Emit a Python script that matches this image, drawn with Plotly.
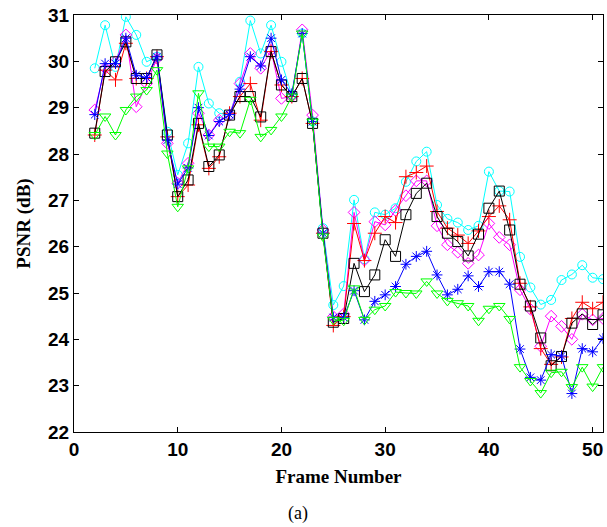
import plotly.graph_objects as go

frames = list(range(2, 52))

psnr_cyan = [29.85, 30.78, 29.88, 30.96, 30.57, 29.99, 30.1, 28.48, 27.55, 28.23,
             29.88, 29.09, 28.88, 28.84, 29.56, 30.88, 30.17, 30.78, 29.99, 29.27,
             30.6, 28.7, 26.4, 24.74, 25.15, 27.01, 25.73, 26.74, 26.69, 26.83,
             27.4, 27.84, 28.05, 26.9, 26.6, 26.52, 26.36, 26.45, 27.62, 27.2,
             27.19, 25.78, 25.12, 24.75, 24.85, 25.28, 25.4, 25.6, 25.33, 25.3]

psnr_red = [28.41, 29.81, 29.6, 30.39, 29.63, 29.63, 30.1, 28.37, 27.08, 27.33,
            28.63, 27.69, 27.94, 28.88, 29.24, 29.52, 28.73, 30.21, 29.49, 29.24,
            29.63, 28.66, 26.29, 24.3, 24.49, 26.5, 25.7, 26.29, 26.65, 26.52,
            27.51, 27.6, 27.74, 26.76, 26.4, 26.25, 26.07, 26.34, 26.65, 26.88,
            26.58, 25.21, 24.7, 23.8, 23.46, 23.62, 24.45, 24.8, 24.66, 24.8]

psnr_black = [28.45, 29.78, 29.99, 30.42, 29.63, 29.63, 30.14, 28.41, 27.08, 27.44,
              28.66, 27.73, 27.98, 28.84, 29.24, 29.24, 28.8, 30.21, 29.49, 29.24,
              29.63, 28.66, 26.29, 24.37, 24.45, 25.64, 25.03, 25.39, 26.15, 25.79,
              26.69, 27.15, 27.37, 26.65, 26.29, 26.11, 25.8, 26.27, 26.83, 27.2,
              26.36, 25.19, 24.72, 24.03, 23.43, 23.63, 24.35, 24.55, 24.32, 24.53]

psnr_magenta = [28.95, 29.85, 29.99, 30.57, 29.02, 29.52, 30.06, 28.23, 27.37, 27.8,
                28.88, 28.41, 28.73, 28.84, 29.52, 30.17, 29.85, 30.24, 29.2, 29.24,
                30.68, 28.84, 26.36, 24.49, 24.55, 26.74, 25.71, 26.54, 26.47, 26.78,
                27.1, 27.42, 27.42, 26.45, 26.04, 25.88, 25.64, 25.82, 26.5, 26.2,
                26.04, 25.07, 24.65, 23.85, 24.5, 24.28, 24.0, 24.54, 24.42, 24.45]

psnr_blue = [28.85, 29.95, 29.95, 30.5, 29.7, 29.65, 30.1, 28.3, 27.35, 27.7,
             29.0, 28.4, 28.7, 28.85, 29.4, 30.1, 29.9, 30.5, 29.6, 29.3,
             30.6, 28.7, 26.29, 24.47, 24.47, 25.05, 24.42, 24.82, 24.96, 25.14,
             25.62, 25.79, 25.9, 25.39, 24.96, 25.08, 25.37, 25.14, 25.46, 25.46,
             25.19, 23.79, 23.18, 23.12, 23.67, 23.64, 22.83, 23.8, 23.73, 24.02]

psnr_green = [28.41, 28.81, 28.41, 28.95, 29.24, 29.38, 29.81, 28.01, 26.86, 27.69,
              29.31, 28.16, 28.16, 28.48, 28.45, 29.17, 28.37, 28.52, 28.81, 29.24,
              30.6, 28.7, 26.22, 24.42, 24.4, 25.1, 24.42, 24.64, 24.72, 25.02,
              25.0, 24.99, 25.25, 24.99, 24.83, 24.78, 24.72, 24.4, 24.66, 24.72,
              24.44, 23.4, 23.1, 22.84, 23.28, 23.3, 22.97, 23.4, 22.98, 23.4]

x_ticks = [0, 10, 20, 30, 40, 50]
y_ticks = [22, 23, 24, 25, 26, 27, 28, 29, 30, 31]

series = [
    (psnr_cyan, "#00FFFF", "circle-open", 9),
    (psnr_magenta, "#FF00FF", "diamond-open", 9),
    (psnr_red, "#FF0000", "cross-thin-open", 10),
    (psnr_black, "#000000", "square-open", 10),
    (psnr_blue, "#0000FF", "asterisk-open", 9),
    (psnr_green, "#00FF00", "triangle-down-open", 10),
]

fig = go.Figure()
for vals, col, sym, sz in series:
    fig.add_trace(go.Scatter(
        x=frames, y=vals, mode="lines+markers",
        line=dict(color=col, width=1),
        marker=dict(symbol=sym, size=sz, color=col, line=dict(color=col, width=1)),
        showlegend=False,
    ))

tickfont = dict(family="Liberation Sans, Arial, sans-serif",
                size=19, color="black", weight="bold")
serif = "Liberation Serif, Times New Roman, serif"

fig.update_layout(
    width=607, height=527,
    margin=dict(l=74, r=4, t=15, b=95),
    paper_bgcolor="white", plot_bgcolor="white",
    xaxis=dict(range=[0, 51], tickvals=x_ticks, ticks="inside", ticklen=5,
               tickcolor="black", showline=True, linecolor="black", linewidth=1,
               mirror="ticks", showgrid=False, zeroline=False, tickfont=tickfont,
               title=dict(text="Frame Number",
                          font=dict(family=serif, size=19, color="black", weight="bold"),
                          standoff=10)),
    yaxis=dict(range=[22, 31], tickvals=y_ticks, ticks="inside", ticklen=5,
               tickcolor="black", showline=True, linecolor="black", linewidth=1,
               mirror="ticks", showgrid=False, zeroline=False, tickfont=tickfont,
               title=dict(text="PSNR (dB)",
                          font=dict(family=serif, size=19, color="black", weight="bold"),
                          standoff=12)),
    annotations=[dict(text="(a)", x=0.423, xref="paper", y=-0.195, yref="paper",
                      showarrow=False, yanchor="middle",
                      font=dict(family=serif, size=18, color="black"))],
)

fig.write_html("out.html", config={"displayModeBar": False},
               post_script="document.body.style.margin='0';")
